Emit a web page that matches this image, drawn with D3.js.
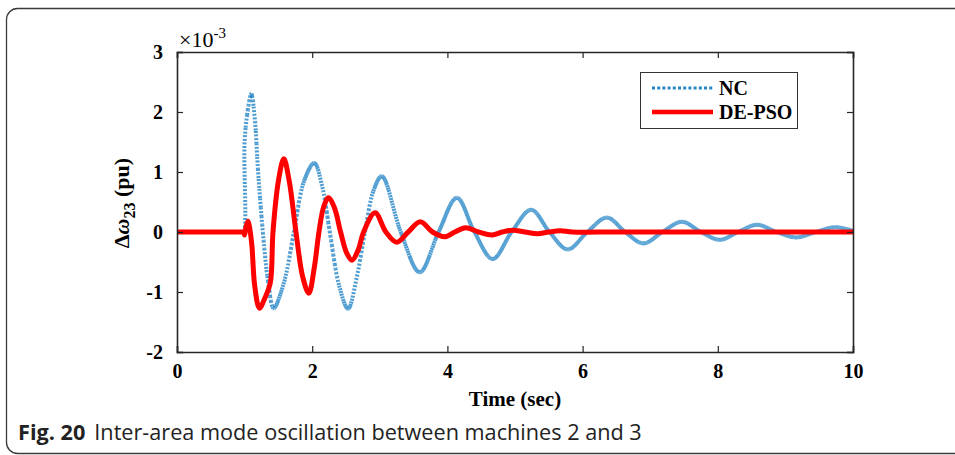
<!DOCTYPE html>
<html>
<head>
<meta charset="utf-8">
<script src="https://cdn.jsdelivr.net/npm/d3@7"></script>
<style>
  html, body { margin: 0; padding: 0; background: #fff; }
  svg { display: block; }
</style>
</head>
<body>
<svg id="chart" width="955" height="455"></svg>
<script>
// ---- data (values in units of 1e-3 pu) ----
const ncTime = [0, 0.5, 0.9, 0.97, 0.99, 1.0, 1.05, 1.1, 1.15, 1.2, 1.27, 1.35, 1.43, 1.58, 1.73, 1.88, 2.03, 2.15, 2.26, 2.40, 2.53, 2.66, 2.78, 2.91, 3.03, 3.31, 3.59, 3.87, 4.14, 4.40, 4.67, 4.95, 5.24, 5.51, 5.78, 6.07, 6.36, 6.63, 6.90, 7.18, 7.47, 7.75, 8.03, 8.30, 8.58, 8.87, 9.16, 9.45, 9.73, 10.0];
const ncValue = [0, 0, 0, 0, 0, 1.5, 2.05, 2.3, 1.9, 1.0, 0.0, -0.85, -1.27, -0.85, 0.0, 0.85, 1.15, 0.75, 0.0, -0.9, -1.28, -0.75, 0.0, 0.7, 0.93, 0.0, -0.67, 0.0, 0.57, 0.0, -0.45, 0.0, 0.37, 0.0, -0.29, 0.0, 0.24, 0.0, -0.19, 0.0, 0.17, 0.0, -0.13, 0.0, 0.12, 0.0, -0.09, 0.0, 0.08, 0.02];
const psoTime = [0, 0.5, 0.9, 0.97, 0.99, 1.0, 1.02, 1.05, 1.07, 1.09, 1.11, 1.15, 1.22, 1.30, 1.38, 1.42, 1.50, 1.58, 1.66, 1.76, 1.86, 1.95, 2.03, 2.10, 2.17, 2.24, 2.33, 2.42, 2.51, 2.59, 2.68, 2.76, 2.93, 3.09, 3.25, 3.42, 3.60, 3.78, 3.96, 4.11, 4.27, 4.46, 4.66, 4.81, 4.96, 5.15, 5.33, 5.50, 5.67, 5.85, 6.5, 8.0, 10.0];
const psoValue = [0, 0, 0, 0, 0, -0.05, 0.08, 0.18, 0.1, -0.05, -0.25, -0.9, -1.27, -1.1, -0.85, 0.0, 0.85, 1.22, 0.85, 0.0, -0.75, -1.02, -0.6, 0.0, 0.42, 0.57, 0.4, 0.0, -0.35, -0.47, -0.3, 0.0, 0.32, 0.0, -0.17, 0.0, 0.17, 0.0, -0.08, 0.0, 0.07, 0.0, -0.05, 0.0, 0.03, 0.0, -0.03, 0.0, 0.02, 0.0, 0.0, 0.0, 0.0];
const xTicks = [0, 2, 4, 6, 8, 10];
const yTicks = [-2, -1, 0, 1, 2, 3];
const seriesNames = ["NC", "DE-PSO"];

// ---- layout ----
const svg = d3.select("#chart");
const L = 177, R = 853, T = 52, B = 352;
const x = d3.scaleLinear().domain([0, 10]).range([L, R]);
const y = d3.scaleLinear().domain([-2, 3]).range([B, T]);
const serif = "'Liberation Serif', 'Times New Roman', serif";

// outer frame (rounded)
svg.append("rect")
  .attr("x", 6.5).attr("y", 8.5).attr("width", 990).attr("height", 445)
  .attr("rx", 11).attr("fill", "none").attr("stroke", "#3a3a3a").attr("stroke-width", 1.3);

// clip
svg.append("clipPath").attr("id", "clip").append("rect")
  .attr("x", L).attr("y", T).attr("width", R - L).attr("height", B - T);

const plot = svg.append("g").attr("clip-path", "url(#clip)");

const line = d3.line().curve(d3.curveCatmullRom.alpha(0.5));

const ncPts = ncTime.map((t, i) => [x(t), y(ncValue[i])]);
const psoPts = psoTime.map((t, i) => [x(t), y(psoValue[i])]);

// NC: dotted MATLAB-style line -> dot pattern restarts on every small x-step,
// so gentle parts look solid and steep parts look dotted.
const guide = plot.append("path").attr("d", line(ncPts)).attr("fill", "none").attr("stroke", "none");
const node = guide.node();
const total = node.getTotalLength();
const dense = [];
for (let s = 0; s <= total; s += 0.4) { const p = node.getPointAtLength(s); dense.push([p.x, p.y]); }
const lp = node.getPointAtLength(total); dense.push([lp.x, lp.y]);
const groups = [];
let cur = [dense[0]];
for (let i = 1; i < dense.length; i++) {
  cur.push(dense[i]);
  if (dense[i][0] - cur[0][0] >= 0.7 || i === dense.length - 1) { groups.push(cur); cur = [dense[i]]; }
}
const ncG = plot.append("g").attr("stroke", "#0072BD").attr("stroke-opacity", 0.7)
  .attr("fill", "none").attr("stroke-width", 4);
ncG.selectAll("path").data(groups).join("path")
  .attr("d", d3.line())
  .attr("stroke-dasharray", "2,1.6");

plot.append("path").attr("d", line(psoPts))
  .attr("fill", "none").attr("stroke", "#FF0000")
  .attr("stroke-width", 5).attr("stroke-linejoin", "round");

// axes (box with inward ticks)
const axisColor = "#262626";
const fmt = d => String(d);
const gB = svg.append("g").attr("transform", `translate(0,${B})`)
  .call(d3.axisBottom(x).tickValues(xTicks).tickSize(-6).tickPadding(12).tickFormat(fmt));
const gT = svg.append("g").attr("transform", `translate(0,${T})`)
  .call(d3.axisTop(x).tickValues(xTicks).tickSize(-6).tickFormat(""));
const gL = svg.append("g").attr("transform", `translate(${L},0)`)
  .call(d3.axisLeft(y).tickValues(yTicks).tickSize(-6).tickPadding(14).tickFormat(fmt));
const gR = svg.append("g").attr("transform", `translate(${R},0)`)
  .call(d3.axisRight(y).tickValues(yTicks).tickSize(-6).tickFormat(""));
[gB, gT, gL, gR].forEach(g => {
  g.select(".domain").attr("stroke", axisColor).attr("stroke-width", 1.6);
  g.selectAll(".tick line").attr("stroke", axisColor).attr("stroke-width", 1.2);
  g.selectAll(".tick text").attr("fill", "#000")
    .style("font-family", serif).style("font-weight", "bold").style("font-size", "20px");
});
gB.selectAll(".tick text").attr("dy", "0.71em");

// exponent
const ex = svg.append("text").attr("x", 179).attr("y", 47)
  .style("font-family", serif).style("font-size", "22px").attr("fill", "#000");
ex.append("tspan").text("\u00d710");
ex.append("tspan").attr("dy", -9).style("font-size", "15px").text("-3");

// x label
svg.append("text").attr("x", (L + R) / 2).attr("y", 406).attr("text-anchor", "middle")
  .style("font-family", serif).style("font-weight", "bold").style("font-size", "21px")
  .text("Time (sec)");

// y label
const yl = svg.append("text").attr("transform", "translate(129,203) rotate(-90)")
  .attr("text-anchor", "middle")
  .style("font-family", serif).style("font-weight", "bold").style("font-size", "22px");
yl.append("tspan").text("\u0394");
yl.append("tspan").style("font-style", "italic").text("\u03c9");
yl.append("tspan").attr("dy", 6).style("font-size", "16px").text("23");
yl.append("tspan").attr("dy", -6).text(" (pu)");

// legend
const lg = svg.append("g");
lg.append("rect").attr("x", 640.5).attr("y", 72.5).attr("width", 157).attr("height", 56)
  .attr("fill", "#fff").attr("stroke", "#333").attr("stroke-width", 1);
const legendColors = ["#0072BD", "#FF0000"];
seriesNames.forEach((name, i) => {
  const yy = 88 + i * 24;
  const ln = lg.append("line").attr("x1", 652).attr("x2", 713).attr("y1", yy).attr("y2", yy)
    .attr("stroke", legendColors[i]);
  if (i === 0) ln.attr("stroke-width", 3).attr("stroke-dasharray", "3,2.2").attr("stroke-opacity", 0.85);
  else ln.attr("stroke-width", 4.5);
  lg.append("text").attr("x", 719).attr("y", yy + 7)
    .style("font-family", serif).style("font-weight", "bold").style("font-size", "20px")
    .text(name);
});

// caption
const cap = svg.append("text").attr("x", 18).attr("y", 440)
  .style("font-family", "'Open Sans', 'Noto Sans', sans-serif").style("font-size", "20px").attr("fill", "#222");
cap.append("tspan").style("font-weight", "bold").text("Fig. 20");
cap.append("tspan").attr("dx", 9).text("Inter-area mode oscillation between machines 2 and 3");
// fit caption to the reference width (ends near x = 633)
const w = cap.node().getComputedTextLength();
cap.style("font-size", (20 * 615 / w).toFixed(2) + "px");
</script>
</body>
</html>
